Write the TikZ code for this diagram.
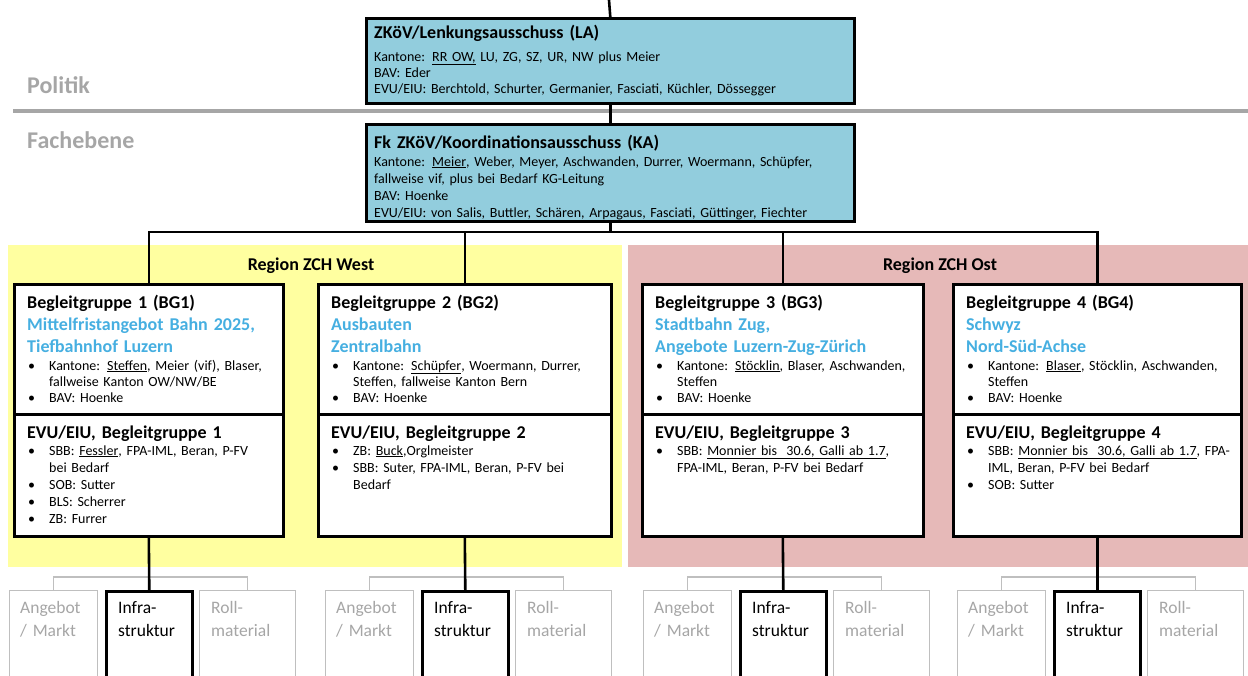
\documentclass[tikz,border=0pt]{standalone}
\usepackage{fontspec}
\setmainfont{Carlito}
\usetikzlibrary{calc}
\definecolor{aqua}{RGB}{146,205,221}
\definecolor{ylw}{RGB}{255,255,160}
\definecolor{pnk}{RGB}{230,185,184}
\definecolor{gtext}{RGB}{166,166,166}
\definecolor{gline}{RGB}{191,191,191}
\definecolor{hblue}{RGB}{70,175,225}
\newcommand\bul{\makebox[21pt][l]{\textbullet}}
\newcommand\ind{\hspace*{21pt}}
\newcommand\ttlf{\fontsize{18}{22}\selectfont\bfseries}
\newcommand\smf{\fontsize{14}{16}\selectfont}
\newcommand\smfb{\fontsize{14}{17}\selectfont}
\begin{document}
\begin{tikzpicture}[x=1pt,y=-1pt,
  conn/.style={draw=black,line width=2.6pt},
  gconn/.style={draw=gline,line width=1.4pt},
  blk/.style={draw=black,line width=2.6pt,fill=white,inner sep=0pt,anchor=north west},
  cbox/.style={blk,fill=aqua},
  gbox/.style={draw=gline,line width=1.4pt,fill=white,inner sep=0pt,anchor=north west,minimum width=88pt,minimum height=110pt},
  ibox/.style={blk,minimum width=86pt,minimum height=110pt},
  txt/.style={anchor=base west,inner sep=0pt,align=left},
  ttl/.style={txt,font=\ttlf},
  sm/.style={txt,font=\smf},
  smb/.style={txt,font=\smfb},
  lvl/.style={txt,font=\fontsize{24}{28}\selectfont\bfseries,text=gtext},
  reg/.style={anchor=base,inner sep=0pt,font=\ttlf},
  btm/.style={txt,font=\fontsize{17.5}{23}\selectfont,text width=80pt}
]
\useasboundingbox (0,0) rectangle (1248,675);
\clip (0,0) rectangle (1248,675);
% region backgrounds
\fill[ylw] (8,245) rectangle (622,567);
\fill[pnk] (628,245) rectangle (1248,567);
\node[reg] (rwest) at (311,270) {Region ZCH West};
\node[reg] (rost) at (940,270) {Region ZCH Ost};
% level separator
\draw[draw=gtext,line width=3.2pt] (13,111) -- (1248,111);
\node[lvl,text width=200pt] (politik) at (27,93) {Politik};
\node[lvl,text width=200pt] (fach) at (27,148) {Fachebene};
% top boxes
\node[cbox,minimum width=488pt,minimum height=85pt] (la) at (365,17) {};
\node[ttl,text width=470pt] (lat) at (374,38) {ZKöV/Lenkungsausschuss (LA)};
\node[sm,text width=470pt] (lab) at (374,61) {Kantone: \underline{RR OW,} LU, ZG, SZ, UR, NW plus Meier\\
BAV: Eder\\
EVU/EIU: Berchtold, Schurter, Germanier, Fasciati, Küchler, Dössegger};
\node[cbox,minimum width=488pt,minimum height=97pt] (ka) at (365,123) {};
\node[ttl,text width=470pt] (kat) at (374,148) {Fk ZKöV/Koordinationsausschuss (KA)};
\node[smb,text width=470pt] (kab) at (374,166) {Kantone: \underline{Meier}, Weber, Meyer, Aschwanden, Durrer, Woermann, Schüpfer,\\
fallweise vif, plus bei Bedarf KG-Leitung\\
BAV: Hoenke\\
EVU/EIU: von Salis, Buttler, Schären, Arpagaus, Fasciati, Güttinger, Fiechter};
% Begleitgruppen boxes
\node[blk,minimum width=269pt,minimum height=130pt] (bgu1) at (13,283) {};
\node[blk,minimum width=269pt,minimum height=122pt] (bgl1) at (13,413) {};
\node[blk,minimum width=293pt,minimum height=130pt] (bgu2) at (317,283) {};
\node[blk,minimum width=293pt,minimum height=122pt] (bgl2) at (317,413) {};
\node[blk,minimum width=281pt,minimum height=130pt] (bgu3) at (641,283) {};
\node[blk,minimum width=281pt,minimum height=122pt] (bgl3) at (641,413) {};
\node[blk,minimum width=288pt,minimum height=130pt] (bgu4) at (952,283) {};
\node[blk,minimum width=288pt,minimum height=122pt] (bgl4) at (952,413) {};
% BG1 texts
\node[ttl,text width=260pt] (bg1t) at ($(bgu1.north west)+(14,25)$) {Begleitgruppe 1 (BG1)\\
\textcolor{hblue}{Mittelfristangebot Bahn 2025,}\\
\textcolor{hblue}{Tiefbahnhof Luzern}};
\node[sm,text width=260pt] (bg1b) at ($(bgu1.north west)+(15,87)$) {\bul Kantone: \underline{Steffen}, Meier (vif), Blaser,\\
\ind fallweise Kanton OW/NW/BE\\
\bul BAV: Hoenke};
\node[ttl,text width=260pt] (bg1e) at ($(bgl1.north west)+(14,25)$) {EVU/EIU, Begleitgruppe 1};
\node[smb,text width=260pt] (bg1f) at ($(bgl1.north west)+(15,42)$) {\bul SBB: \underline{Fessler}, FPA-IML, Beran, P-FV\\
\ind bei Bedarf\\
\bul SOB: Sutter\\
\bul BLS: Scherrer\\
\bul ZB: Furrer};
% BG2 texts
\node[ttl,text width=280pt] (bg2t) at ($(bgu2.north west)+(14,25)$) {Begleitgruppe 2 (BG2)\\
\textcolor{hblue}{Ausbauten}\\
\textcolor{hblue}{Zentralbahn}};
\node[sm,text width=280pt] (bg2b) at ($(bgu2.north west)+(15,87)$) {\bul Kantone: \underline{Schüpfer}, Woermann, Durrer,\\
\ind Steffen, fallweise Kanton Bern\\
\bul BAV: Hoenke};
\node[ttl,text width=280pt] (bg2e) at ($(bgl2.north west)+(14,25)$) {EVU/EIU, Begleitgruppe 2};
\node[smb,text width=280pt] (bg2f) at ($(bgl2.north west)+(15,42)$) {\bul ZB: \underline{Buck},Orglmeister\\
\bul SBB: Suter, FPA-IML, Beran, P-FV bei\\
\ind Bedarf};
% BG3 texts
\node[ttl,text width=270pt] (bg3t) at ($(bgu3.north west)+(14,25)$) {Begleitgruppe 3 (BG3)\\
\textcolor{hblue}{Stadtbahn Zug,}\\
\textcolor{hblue}{Angebote Luzern-Zug-Zürich}};
\node[sm,text width=270pt] (bg3b) at ($(bgu3.north west)+(15,87)$) {\bul Kantone: \underline{Stöcklin}, Blaser, Aschwanden,\\
\ind Steffen\\
\bul BAV: Hoenke};
\node[ttl,text width=270pt] (bg3e) at ($(bgl3.north west)+(14,25)$) {EVU/EIU, Begleitgruppe 3};
\node[smb,text width=270pt] (bg3f) at ($(bgl3.north west)+(15,42)$) {\bul SBB: \underline{Monnier bis\ \ 30.6, Galli ab 1.7},\\
\ind FPA-IML, Beran, P-FV bei Bedarf};
% BG4 texts
\node[ttl,text width=275pt] (bg4t) at ($(bgu4.north west)+(14,25)$) {Begleitgruppe 4 (BG4)\\
\textcolor{hblue}{Schwyz}\\
\textcolor{hblue}{Nord-Süd-Achse}};
\node[sm,text width=275pt] (bg4b) at ($(bgu4.north west)+(15,87)$) {\bul Kantone: \underline{Blaser}, Stöcklin, Aschwanden,\\
\ind Steffen\\
\bul BAV: Hoenke};
\node[ttl,text width=275pt] (bg4e) at ($(bgl4.north west)+(14,25)$) {EVU/EIU, Begleitgruppe 4};
\node[smb,text width=275pt] (bg4f) at ($(bgl4.north west)+(15,42)$) {\bul SBB: \underline{Monnier bis\ \ 30.6, Galli ab 1.7}, FPA-\\
\ind IML, Beran, P-FV bei Bedarf\\
\bul SOB: Sutter};
% connectors top
\coordinate (topend) at (609,0);
\coordinate (bus) at (0,232);
\draw[conn] (topend) -- (la.north);
\draw[conn] (la.south) -- (ka.north);
\draw[conn] (ka.south) -- (ka.south |- bus);
\draw[conn,line join=miter] (bgu1.north) -- (bgu1.north |- bus) -- (bgu4.north |- bus) -- (bgu4.north);
\draw[conn] (bgu2.north |- bus) -- (bgu2.north);
\draw[conn] (bgu3.north |- bus) -- (bgu3.north);
% bottom rows
\foreach \c/\i in {148/1,464/2,782/3,1096/4}{
  \node[gbox] (ang\i) at (\c-139,590) {};
  \node[gbox,minimum width=96pt] (roll\i) at (\c+51,590) {};
  \node[ibox] (inf\i) at (\c-43,590) {};
  \draw[gconn] (ang\i.north) -- ++(0,-13) -| (roll\i.north);
  \draw[conn] (bgl\i.south) -- (inf\i.north);
  \node[btm,text=gtext] (angt\i) at ($(ang\i.north west)+(11,23)$) {Angebot\\/ Markt};
  \node[btm] (inft\i) at ($(inf\i.north west)+(13,23)$) {Infra-\\struktur};
  \node[btm,text=gtext] (rollt\i) at ($(roll\i.north west)+(12,23)$) {Roll-\\material};
}
\end{tikzpicture}
\end{document}
